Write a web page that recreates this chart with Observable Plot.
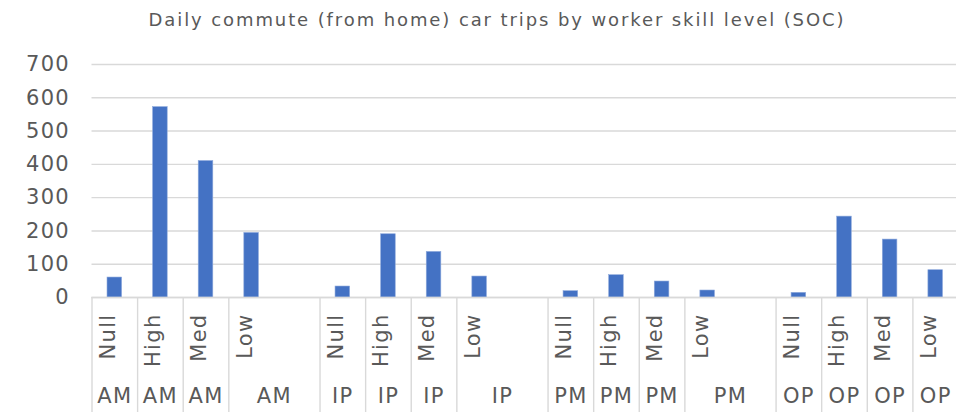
<!DOCTYPE html>
<html>
<head>
<meta charset="utf-8">
<script src="https://cdn.jsdelivr.net/npm/d3@7"></script>
<script src="https://cdn.jsdelivr.net/npm/@observablehq/plot@0.6"></script>
<style>
  html, body { margin: 0; padding: 0; background: #fff; }
  #title { height: 40px; line-height: 40px; width: 956px; box-sizing: border-box; padding-left: 38px;
    text-align: center; font-family: "DejaVu Sans", sans-serif; font-size: 18px; letter-spacing: 1.9px; color: #595959; white-space: nowrap; }
  svg { display: block; }
  svg text { letter-spacing: 1.3px; }
</style>
</head>
<body>
<div id="title">Daily commute (from home) car trips by worker skill level (SOC)</div>
<div id="chart"></div>
<script>
const periods = ["AM", "IP", "PM", "OP"];
const skills = ["Null", "High", "Med", "Low"];
const amValues = [60, 572, 410, 194];
const ipValues = [33, 190, 137, 63];
const pmValues = [19, 67, 48, 21];
const opValues = [14, 243, 174, 82];
const yTicks = [0, 100, 200, 300, 400, 500, 600, 700];

const seriesByPeriod = {AM: amValues, IP: ipValues, PM: pmValues, OP: opValues};
const rows = [];
const domain = [];
periods.forEach((p, pi) => {
  skills.forEach((s, si) => {
    const key = p + "|" + s;
    domain.push(key);
    rows.push({key, period: p, skill: s, value: seriesByPeriod[p][si]});
  });
  if (pi < periods.length - 1) domain.push(p + "|");  // empty spacer slot
});

const W = 956, H = 372, mTop = 24, mBottom = 115, mLeft = 91.5;
const xRange = [91.5, 958];
const step = (xRange[1] - xRange[0]) / domain.length;
const plotH = H - mTop - mBottom;

const sepKeys = rows.map(d => d.key);
const lastKey = rows[rows.length - 1].key;
const lowSpan = rows.filter(d => d.skill === "Low" && d.period !== "OP");
const singleSpan = rows.filter(d => !(d.skill === "Low" && d.period !== "OP"));

const font = "DejaVu Sans, sans-serif";
const grey = "#595959";

const chart = Plot.plot({
  width: W, height: H,
  marginTop: mTop, marginBottom: mBottom, marginLeft: mLeft, marginRight: 0,
  style: {fontFamily: font, color: grey, background: "#fff", overflow: "visible"},
  x: {type: "band", domain, range: xRange, round: false, paddingInner: 0.68, paddingOuter: 0.34, axis: null},
  y: {domain: [0, 700], ticks: yTicks, axis: null},
  marks: [
    Plot.gridY(yTicks, {stroke: "#d9d9d9", strokeOpacity: 1, strokeWidth: 1.4}),
    Plot.barY(rows, {x: "key", y: "value", fill: "#4472c4", stroke: "#8faadc", strokeWidth: 0.6}),
    Plot.ruleY([0], {stroke: "#d9d9d9", strokeWidth: 1.6}),
    Plot.ruleX(sepKeys, {x: d => d, dx: -step / 2, stroke: "#d9d9d9", strokeWidth: 1.4, insetTop: plotH, insetBottom: -mBottom}),
    Plot.ruleX([lastKey], {x: d => d, dx: step / 2 - 1, stroke: "#d9d9d9", strokeWidth: 1.4, insetTop: plotH, insetBottom: -mBottom}),
    Plot.axisY(yTicks, {tickSize: 0, tickPadding: 22, fontSize: 21, fill: grey, label: null, tickFormat: d => String(d)}),
    Plot.text(rows, {x: "key", text: "skill", rotate: -90, textAnchor: "end", frameAnchor: "bottom", dy: 16,
      fontSize: 21, fill: grey}),
    Plot.text(singleSpan, {x: "key", text: "period", frameAnchor: "bottom", dy: 105, fontSize: 21, fill: grey}),
    Plot.text(lowSpan, {x: "key", text: "period", frameAnchor: "bottom", dy: 105, dx: step / 2, fontSize: 21, fill: grey})
  ]
});
document.getElementById("chart").appendChild(chart);
</script>
</body>
</html>
